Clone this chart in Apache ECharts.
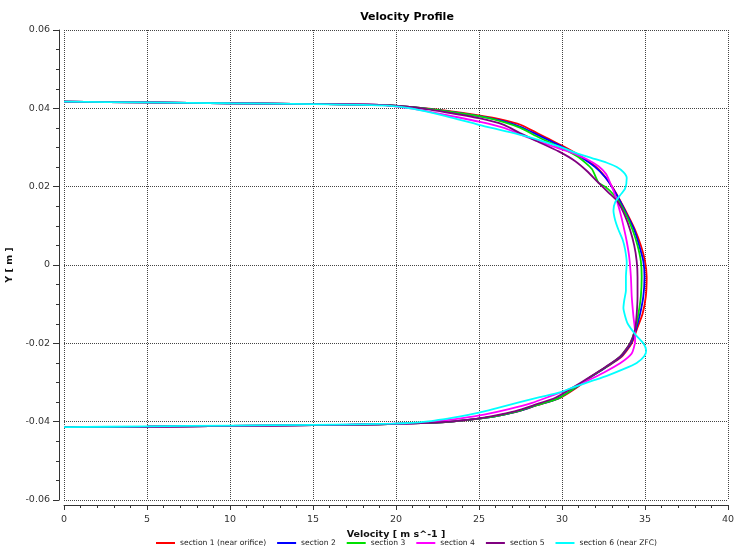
<!DOCTYPE html>
<html>
<head>
<meta charset="utf-8">
<script src="https://cdn.jsdelivr.net/npm/echarts@6/dist/echarts.min.js"></script>
<style>html,body{margin:0;padding:0;background:#fff}#c{width:734px;height:553px}</style>
</head>
<body>
<div id="c"></div>
<script>
const seriesNames = ['section 1 (near orifice)', 'section 2', 'section 3', 'section 4', 'section 5', 'section 6 (near ZFC)'];
const xTicks = [0, 5, 10, 15, 20, 25, 30, 35, 40];
const yTicks = [-0.06, -0.04, -0.02, 0, 0.02, 0.04, 0.06];

const sec1V = [0,5,10,15,19,21,23,25,26.5,27.5,28.5,30,31,32,32.6,33.1,33.5,34.0,34.4,34.75,35.0,35.1,35.05,34.85,34.5,34.2,33.6,32.7,31.7,30.85,29.85,28.5,27.5,26,25,23.5,22,19,15,10,5,0];
const sec1Y = [0.0417,0.0415,0.0413,0.0411,0.0409,0.0403,0.0394,0.0382,0.0370,0.0358,0.0337,0.0305,0.0281,0.0252,0.0225,0.0195,0.0165,0.0125,0.0090,0.0050,0.0010,-0.0030,-0.0080,-0.0125,-0.0165,-0.0200,-0.0234,-0.0260,-0.0287,-0.0314,-0.0340,-0.0358,-0.0372,-0.0386,-0.0392,-0.0399,-0.0403,-0.0407,-0.0409,-0.0411,-0.0413,-0.0414];

const sec2V = [0,5,10,15,19,21,23,25,26.5,27.5,28.5,30,31,32,32.6,33.1,33.5,33.95,34.35,34.65,34.9,34.97,34.9,34.7,34.45,34.15,33.55,32.65,31.65,30.75,29.75,28.4,27.4,25.9,25,23.5,22,19,15,10,5,0];
const sec2Y = [0.0417,0.0415,0.0413,0.0411,0.0409,0.0403,0.0393,0.0380,0.0367,0.0353,0.0333,0.0302,0.0279,0.0250,0.0224,0.0193,0.0163,0.0125,0.0090,0.0050,0.0010,-0.0030,-0.0080,-0.0125,-0.0165,-0.0200,-0.0234,-0.0261,-0.0288,-0.0315,-0.0341,-0.0359,-0.0373,-0.0387,-0.0392,-0.0399,-0.0403,-0.0407,-0.0409,-0.0411,-0.0413,-0.0414];

const sec3V = [0,5,10,15,19,21,23,25,26.5,27.5,28.5,30,31,31.8,32.2,32.6,33.1,33.45,33.9,34.25,34.55,34.75,34.8,34.75,34.6,34.4,34.1,33.5,32.6,31.6,30.7,29.7,28.3,27.3,25.9,25,23.5,22,19,15,10,5,0];
const sec3Y = [0.0417,0.0415,0.0413,0.0411,0.0409,0.0403,0.0393,0.0380,0.0365,0.0350,0.0328,0.0298,0.0275,0.0245,0.0210,0.0200,0.0180,0.0160,0.0125,0.0090,0.0050,0.0010,-0.0030,-0.0080,-0.0125,-0.0165,-0.0200,-0.0234,-0.0262,-0.0289,-0.0316,-0.0342,-0.0360,-0.0374,-0.0387,-0.0392,-0.0399,-0.0403,-0.0407,-0.0409,-0.0411,-0.0413,-0.0414];

const sec4V = [0,5,10,15,19,21,23,25,26.5,28,29.5,30.5,31.5,32.2,32.66,32.9,33.1,33.3,33.5,33.7,33.9,34.05,34.15,34.2,34.3,34.4,34.4,34.2,33.5,32.5,31.5,30.5,29.3,28.2,26.8,25.3,24,22.5,21,18,15,10,5,0];
const sec4Y = [0.0417,0.0415,0.0413,0.0411,0.0409,0.0399,0.0383,0.0366,0.0350,0.0325,0.0302,0.0288,0.0270,0.0252,0.0232,0.0210,0.0190,0.0165,0.0135,0.0100,0.0060,0.0020,-0.0030,-0.0080,-0.0130,-0.0170,-0.0195,-0.0226,-0.0251,-0.0275,-0.0296,-0.0316,-0.0335,-0.0352,-0.0368,-0.0382,-0.0391,-0.0399,-0.0404,-0.0407,-0.0409,-0.0411,-0.0413,-0.0414];

const sec5V = [0,5,10,15,19,21,23,25,26.5,27.5,28.5,29.8,30.8,31.5,32.2,32.8,33.35,33.8,34.1,34.35,34.5,34.55,34.55,34.5,34.4,34.1,33.5,32.6,31.6,30.6,29.6,28.3,27.2,25.8,24.8,23.3,22,19,15,10,5,0];
const sec5Y = [0.0417,0.0415,0.0413,0.0411,0.0409,0.0403,0.0390,0.0375,0.0358,0.0336,0.0316,0.0290,0.0265,0.0240,0.0210,0.0185,0.0162,0.0125,0.0090,0.0050,0.0010,-0.0030,-0.0080,-0.0125,-0.0165,-0.0200,-0.0234,-0.0261,-0.0288,-0.0314,-0.0339,-0.0358,-0.0373,-0.0386,-0.0393,-0.0400,-0.0403,-0.0407,-0.0409,-0.0411,-0.0413,-0.0414];

const sec6V = [0,5,10,15,19.5,21,23,25,27.8,29.85,30.9,31.8,32.7,33.3,33.7,33.9,33.8,33.5,33.2,33.1,33.2,33.4,33.65,33.8,33.9,33.85,33.85,33.75,33.7,33.8,33.96,34.47,34.9,35.07,34.95,34.5,33.7,32.7,31.8,30.7,29.8,28.6,26.2,25,23.8,21.8,19.8,15,10,5,0];
const sec6Y = [0.0417,0.0415,0.0413,0.0411,0.0407,0.0399,0.0380,0.0358,0.0329,0.0302,0.0285,0.0273,0.0261,0.0250,0.0237,0.0222,0.0195,0.0178,0.0160,0.0140,0.0115,0.0090,0.0065,0.0040,0.0005,-0.0030,-0.0065,-0.0090,-0.0110,-0.0130,-0.0150,-0.0180,-0.0200,-0.0218,-0.0233,-0.0250,-0.0266,-0.0283,-0.0296,-0.0312,-0.0326,-0.0338,-0.0364,-0.0377,-0.0387,-0.0400,-0.0405,-0.0408,-0.0410,-0.0412,-0.0414];

const colors = ['#ff0000', '#0000ff', '#00e000', '#ff00ff', '#800080', '#00ffff'];
const allV = [sec1V, sec2V, sec3V, sec4V, sec5V, sec6V];
const allY = [sec1Y, sec2Y, sec3Y, sec4Y, sec5Y, sec6Y];

const FONT = 'DejaVu Sans';
const chart = echarts.init(document.getElementById('c'), null, {renderer: 'canvas'});
const series = seriesNames.map((name, i) => ({
  name: name,
  type: 'line',
  data: allV[i].map((v, k) => [v, allY[i][k]]),
  symbol: 'none',
  showSymbol: false,
  smooth: 0.2,
  lineStyle: {color: colors[i], width: 1.8},
  itemStyle: {color: colors[i]},
  z: 2 + i
}));

chart.setOption({
  animation: false,
  backgroundColor: '#fff',
  color: colors,
  title: {
    text: 'Velocity Profile',
    left: 402, top: 7, textAlign: 'center',
    textStyle: {fontFamily: FONT, fontSize: 11, fontWeight: 'bold', color: '#000'}
  },
  legend: {
    bottom: 1, left: 151,
    icon: 'rect',
    itemWidth: 19, itemHeight: 2, itemGap: 11,
    textStyle: {fontFamily: FONT, fontSize: 7.6, color: '#222'},
    data: seriesNames
  },
  grid: {left: 64, right: 6, top: 30, bottom: 53, outerBoundsMode: 'none', containLabel: false},
  xAxis: {
    type: 'value', min: xTicks[0], max: xTicks[xTicks.length - 1], interval: 5,
    offset: 5,
    name: 'Velocity [ m s^-1 ]', nameLocation: 'middle', nameGap: 19,
    nameTextStyle: {fontFamily: FONT, fontSize: 9.5, fontWeight: 'bold', color: '#111'},
    axisLine: {show: true, onZero: false, lineStyle: {color: '#333', width: 1}},
    axisTick: {show: true, length: 5, lineStyle: {color: '#333'}},
    minorTick: {show: true, splitNumber: 5, length: 3, lineStyle: {color: '#333'}},
    axisLabel: {margin: 10, fontFamily: FONT, fontSize: 9.5, color: '#333'},
    splitLine: {show: true, lineStyle: {color: '#444', type: [1, 1], width: 1}}
  },
  yAxis: {
    type: 'value', min: yTicks[0], max: yTicks[yTicks.length - 1], interval: 0.02,
    offset: 5,
    name: 'Y [ m ]', nameLocation: 'middle', nameGap: 37,
    nameTextStyle: {fontFamily: FONT, fontSize: 9.5, fontWeight: 'bold', color: '#111'},
    axisLine: {show: true, onZero: false, lineStyle: {color: '#333', width: 1}},
    axisTick: {show: true, length: 6, lineStyle: {color: '#333'}},
    minorTick: {show: true, splitNumber: 4, length: 3, lineStyle: {color: '#333'}},
    axisLabel: {margin: 9, fontFamily: FONT, fontSize: 9.5, color: '#333',
      formatter: v => String(Math.round(v * 100) / 100)},
    splitLine: {show: true, lineStyle: {color: '#444', type: [1, 1], width: 1}}
  },
  series: series
});
</script>
</body>
</html>
